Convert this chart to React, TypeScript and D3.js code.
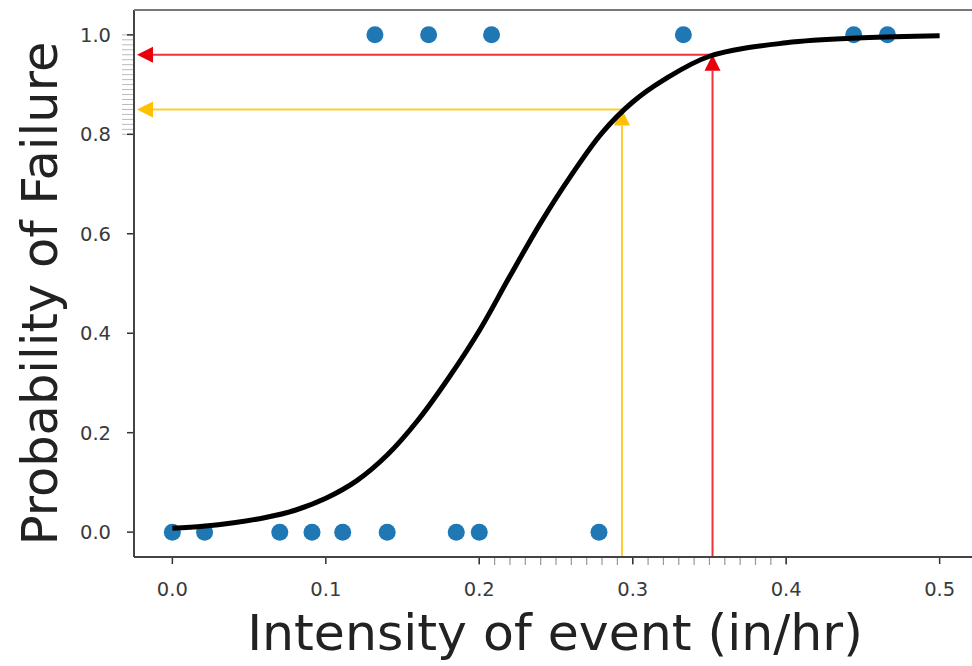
import React from "react";
import * as d3 from "d3";

// ---- data ----
const failX: number[] = [0.132, 0.167, 0.208, 0.333, 0.444, 0.466]; // y = 1
const okX: number[] = [0.0, 0.021, 0.070, 0.091, 0.111, 0.140, 0.185, 0.200, 0.278]; // y = 0
const curveX: number[] = [0.0, 0.02, 0.04, 0.06, 0.08, 0.1, 0.12, 0.14, 0.16, 0.18, 0.2, 0.22, 0.24, 0.26, 0.28, 0.3, 0.32, 0.35, 0.4, 0.45, 0.5];
const curveY: number[] = [0.008, 0.012, 0.019, 0.029, 0.044, 0.068, 0.103, 0.155, 0.225, 0.31, 0.405, 0.515, 0.622, 0.718, 0.803, 0.865, 0.909, 0.957, 0.984, 0.994, 0.998];
const arrowsX: number[] = [0.293, 0.352];
const arrowsY: number[] = [0.85, 0.96];
const arrowColors: string[] = ["#FFC000", "#E8000B"];
const xTicks: number[] = [0, 0.1, 0.2, 0.3, 0.4, 0.5];
const yTicks: number[] = [0, 0.2, 0.4, 0.6, 0.8, 1.0];
const xMinorRange: number[] = [0.2, 0.4];
const yMinorRange: number[] = [0.8, 1.0];
const xTitle = "Intensity of event (in/hr)";
const yTitle = "Probability of Failure";

const W = 972;
const H = 666;
const L = 134, R = 978, T = 10, B = 557;

export default function App() {
  const x = d3.scaleLinear().domain([-0.025, 0.525]).range([L, R]);
  const y = d3.scaleLinear().domain([-0.05, 1.05]).range([B, T]);
  const pts = curveX.map((v, i) => [v, curveY[i]] as [number, number]);
  const line = d3
    .line<[number, number]>()
    .x((d) => x(d[0]))
    .y((d) => y(d[1]))
    .curve(d3.curveCatmullRom.alpha(0.5));

  const xMinor = d3.range(Math.round(xMinorRange[0] * 100), Math.round(xMinorRange[1] * 100) + 1).map((v) => v / 100);
  const yMinor = d3.range(Math.round(yMinorRange[0] * 100), Math.round(yMinorRange[1] * 100) + 1).map((v) => v / 100);

  const font = "DejaVu Sans, sans-serif";
  const hl = 16; // head length
  const hw = 8; // half head width

  return (
    <svg
      width={W}
      height={H}
      style={{ position: "fixed", left: 0, top: 0, background: "#fff" }}
      fontFamily={font}
    >
      <rect x={0} y={0} width={W} height={H} fill="#fff" />
      {/* minor ticks */}
      {xMinor.map((v, i) => (
        <line key={"xm" + i} x1={x(v)} x2={x(v)} y1={B + 1} y2={B + 8} stroke="#999" strokeWidth={1.2} />
      ))}
      {yMinor.map((v, i) => (
        <line key={"ym" + i} x1={L - 12} x2={L - 1} y1={y(v)} y2={y(v)} stroke="#bbb" strokeWidth={1} />
      ))}
      {/* major ticks */}
      {xTicks.map((v, i) => (
        <g key={"xt" + i}>
          <line x1={x(v)} x2={x(v)} y1={B} y2={B + 7} stroke="#333" strokeWidth={1.5} />
          <text x={x(v)} y={596} textAnchor="middle" fontSize={19.5} fill="#3a3a3a">
            {v.toFixed(1)}
          </text>
        </g>
      ))}
      {yTicks.map((v, i) => (
        <g key={"yt" + i}>
          <line x1={L - 7} x2={L} y1={y(v)} y2={y(v)} stroke="#333" strokeWidth={1.5} />
          <text x={L - 23} y={y(v)} dy="0.36em" textAnchor="end" fontSize={19.5} fill="#3a3a3a">
            {v.toFixed(1)}
          </text>
        </g>
      ))}

      {/* arrows */}
      {arrowsX.map((ax, i) => {
        const px = x(ax);
        const py = y(arrowsY[i]);
        const c = arrowColors[i];
        const tipX = L + 3;
        return (
          <g key={"ar" + i}>
            <line x1={px} x2={px} y1={B} y2={py + hl} stroke={c} strokeWidth={2} opacity={0.8} />
            <path d={`M${px},${py} L${px - hw},${py + hl} L${px + hw},${py + hl} Z`} fill={c} />
            <line x1={px} x2={tipX + hl} y1={py} y2={py} stroke={c} strokeWidth={2} opacity={0.8} />
            <path d={`M${tipX},${py} L${tipX + hl},${py - hw} L${tipX + hl},${py + hw} Z`} fill={c} />
          </g>
        );
      })}

      {/* scatter */}
      {okX.map((v, i) => (
        <circle key={"o" + i} cx={x(v)} cy={y(0)} r={8.5} fill="#1f77b4" />
      ))}
      {failX.map((v, i) => (
        <circle key={"f" + i} cx={x(v)} cy={y(1)} r={8.5} fill="#1f77b4" />
      ))}

      {/* curve */}
      <path d={line(pts) || ""} fill="none" stroke="#000" strokeWidth={5} strokeLinecap="butt" />

      {/* spines */}
      <line x1={L} x2={L} y1={T} y2={B} stroke="#444" strokeWidth={2} />
      <line x1={L} x2={R} y1={B} y2={B} stroke="#444" strokeWidth={2} />
      <line x1={L} x2={R} y1={T} y2={T} stroke="#777" strokeWidth={2} />
      <line x1={R} x2={R} y1={T} y2={B} stroke="#777" strokeWidth={2} />

      {/* titles */}
      <text x={(248 + 862) / 2} y={650} textAnchor="middle" fontSize={50.5} fill="#222">
        {xTitle}
      </text>
      <text
        transform={`translate(57, ${(42 + 545) / 2}) rotate(-90)`}
        textAnchor="middle"
        fontSize={49.5}
        fill="#222"
      >
        {yTitle}
      </text>
    </svg>
  );
}
